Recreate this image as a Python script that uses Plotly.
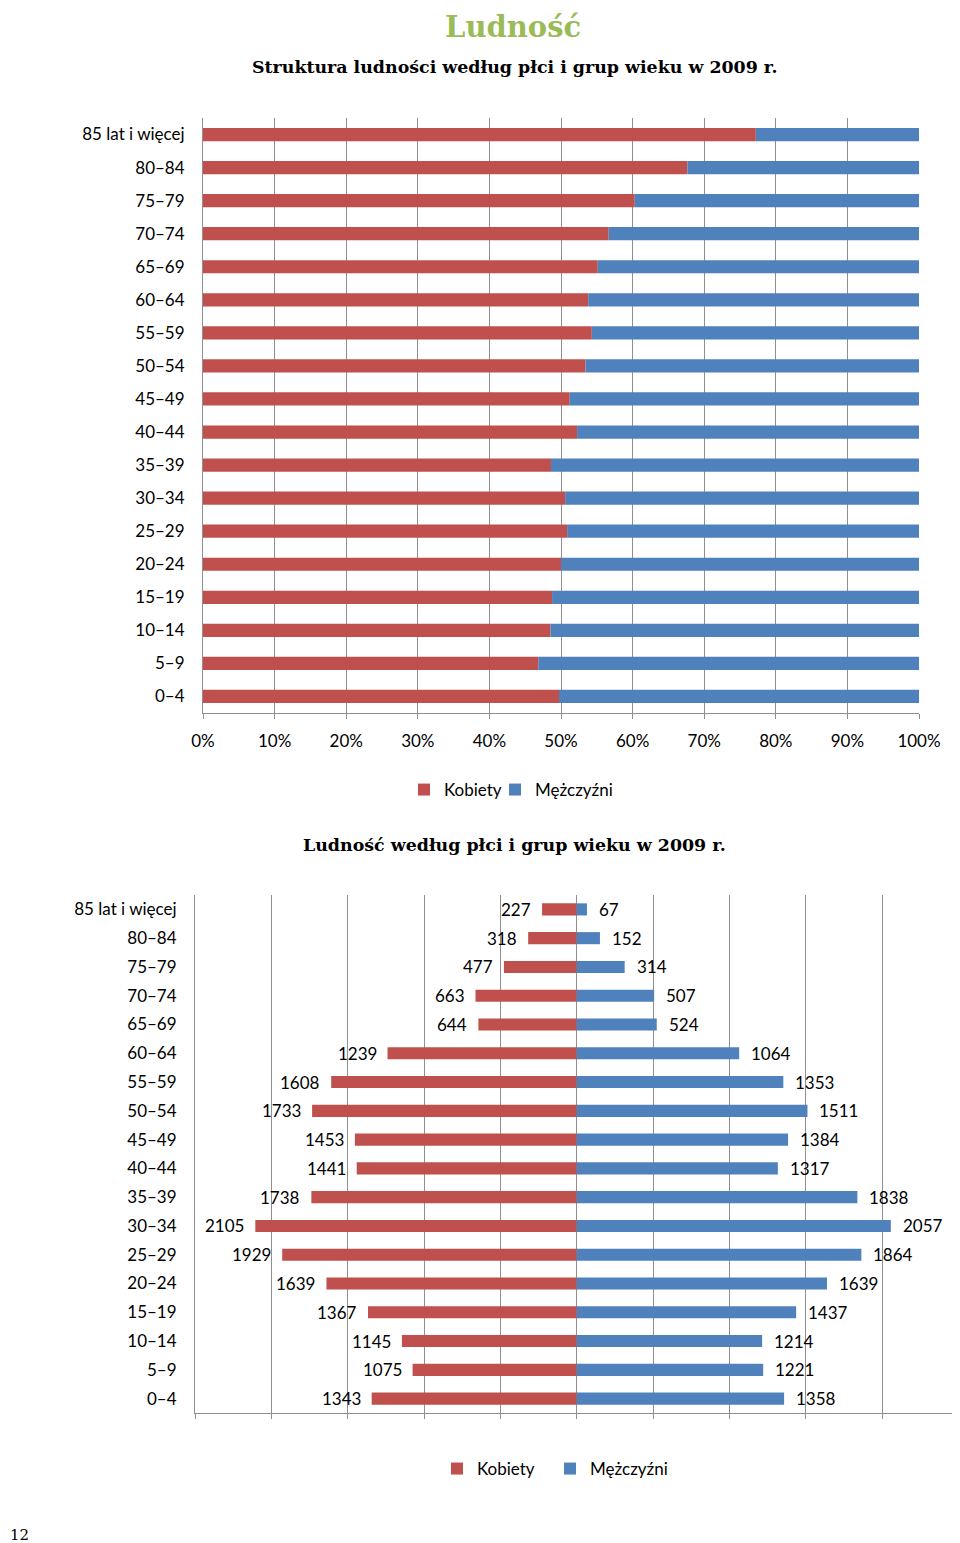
import plotly.graph_objects as go

# ---- data ----
age_groups = ["0–4", "5–9", "10–14", "15–19", "20–24", "25–29", "30–34", "35–39",
              "40–44", "45–49", "50–54", "55–59", "60–64", "65–69", "70–74",
              "75–79", "80–84", "85 lat i więcej"]
kobiety = [1343, 1075, 1145, 1367, 1639, 1929, 2105, 1738,
           1441, 1453, 1733, 1608, 1239, 644, 663, 477, 318, 227]
mezczyzni = [1358, 1221, 1214, 1437, 1639, 1864, 2057, 1838,
             1317, 1384, 1511, 1353, 1064, 524, 507, 314, 152, 67]
pct_ticks = [0, 10, 20, 30, 40, 50, 60, 70, 80, 90, 100]
pct_labels = [f"{t}%" for t in pct_ticks]

RED = "#C0504D"
BLUE = "#4F81BD"
GRID = "#8f8f8f"
FONT = "Lato"
OFF = 8            # page body margin of the html page
FW, FH = 952, 1535  # figure size so that it fills the 960x1543 window


def px(x):
    return (x - OFF) / FW


def py(y):
    return 1 - (y - OFF) / FH


pct_f = [f / (f + m) * 100 for f, m in zip(kobiety, mezczyzni)]
pct_m = [m / (f + m) * 100 for f, m in zip(kobiety, mezczyzni)]

fig = go.Figure()

# ---- top chart: 100% stacked ----
fig.add_trace(go.Bar(y=age_groups, x=pct_f, orientation="h", name="Kobiety",
                     marker=dict(color=RED, line=dict(width=0)), width=0.4,
                     xaxis="x", yaxis="y", legend="legend", hoverinfo="skip"))
fig.add_trace(go.Bar(y=age_groups, x=pct_m, orientation="h", name="Mężczyźni",
                     marker=dict(color=BLUE, line=dict(width=0)), width=0.4,
                     xaxis="x", yaxis="y", legend="legend3", hoverinfo="skip"))

# ---- bottom chart: pyramid ----
fig.add_trace(go.Bar(y=age_groups, x=[-v for v in kobiety], orientation="h", name="Kobiety",
                     marker=dict(color=RED, line=dict(width=0)), width=0.42,
                     xaxis="x2", yaxis="y2", legend="legend2", hoverinfo="skip"))
fig.add_trace(go.Bar(y=age_groups, x=mezczyzni, orientation="h", name="Mężczyźni",
                     marker=dict(color=BLUE, line=dict(width=0)), width=0.42,
                     xaxis="x2", yaxis="y2", legend="legend4", hoverinfo="skip"))

LBL = dict(family=FONT, size=17, color="black")
annotations = []
for g, f, m in zip(age_groups, kobiety, mezczyzni):
    annotations.append(dict(x=-f, y=g, xref="x2", yref="y2", text=str(f), showarrow=False,
                            xanchor="right", xshift=-9, font=LBL))
    annotations.append(dict(x=m, y=g, xref="x2", yref="y2", text=str(m), showarrow=False,
                            xanchor="left", xshift=10, font=LBL))

annotations += [
    dict(x=px(513), y=1.0, xref="paper", yref="paper", text="Ludność", showarrow=False,
         xanchor="center", yanchor="top",
         font=dict(family="DejaVu Serif", size=29, color="#9BBB59", weight="bold")),
    dict(x=px(514), y=py(67), xref="paper", yref="paper",
         text="Struktura ludności według płci i grup wieku w 2009 r.", showarrow=False,
         xanchor="center", yanchor="middle",
         font=dict(family="DejaVu Serif", size=17.4, color="black", weight="bold")),
    dict(x=px(514), y=py(845), xref="paper", yref="paper",
         text="Ludność według płci i grup wieku w 2009 r.", showarrow=False,
         xanchor="center", yanchor="middle",
         font=dict(family="DejaVu Serif", size=17.4, color="black", weight="bold")),
    dict(x=0, y=py(1535), xref="paper", yref="paper", text="12", showarrow=False,
         xanchor="left", yanchor="middle",
         font=dict(family="DejaVu Serif", size=15, color="black")),
]

axis_common = dict(showgrid=True, gridcolor=GRID, gridwidth=1, showline=True,
                   linecolor=GRID, linewidth=1, zeroline=False, fixedrange=True,
                   automargin=False)
yaxis_common = dict(type="category", categoryorder="array", categoryarray=age_groups,
                    range=[-0.5, 17.5], ticks="", ticklabelstandoff=14, showgrid=False,
                    showline=True, linecolor=GRID, linewidth=1, zeroline=False,
                    fixedrange=True, automargin=False, tickfont=LBL)


def leg(xpage, ypage):
    return dict(orientation="h", x=px(xpage), xanchor="left", y=py(ypage), yanchor="middle",
                font=LBL, bgcolor="rgba(0,0,0,0)", borderwidth=0)


fig.update_layout(
    template="none",
    width=FW, height=FH,
    margin=dict(l=0, r=0, t=0, b=0, autoexpand=False),
    paper_bgcolor="white", plot_bgcolor="white",
    barmode="relative", bargap=0.6,
    font=dict(family=FONT, size=17, color="black"),
    xaxis=dict(domain=[px(203), px(919)], range=[0, 100], anchor="y",
               tickmode="array", tickvals=pct_ticks, ticktext=pct_labels,
               ticks="outside", ticklen=5, tickcolor=GRID, ticklabelstandoff=8,
               tickfont=LBL, **axis_common),
    yaxis=dict(domain=[py(713), py(118)], anchor="x", **yaxis_common),
    xaxis2=dict(domain=[px(195), px(960)], range=[-2500, 2510], anchor="y2",
                tickmode="linear", dtick=500, tick0=0, showticklabels=False,
                ticks="outside", ticklen=5, tickcolor=GRID, **axis_common),
    yaxis2=dict(domain=[py(1413), py(895)], anchor="x2", **yaxis_common),
    legend=leg(404, 790),
    legend3=leg(495, 790),
    legend2=leg(437, 1469),
    legend4=leg(550, 1469),
    annotations=annotations,
    showlegend=True,
)

fig.write_html("out.html")
